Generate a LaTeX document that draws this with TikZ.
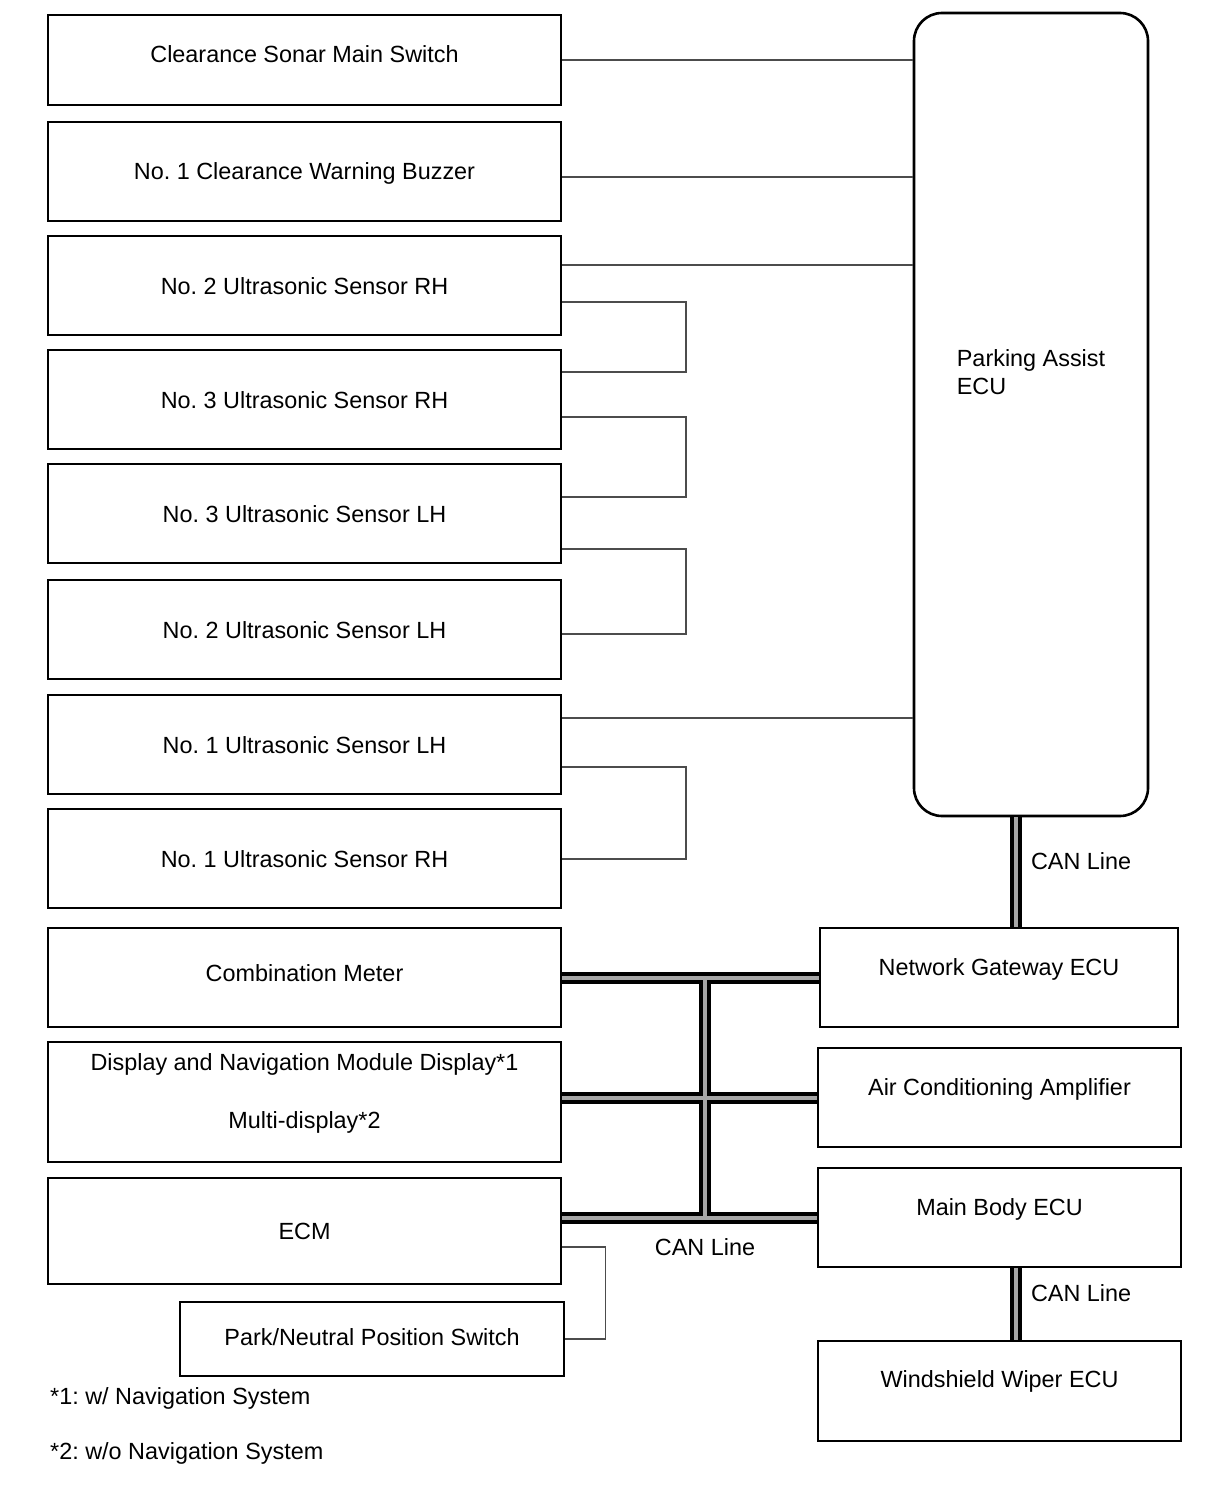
\documentclass[tikz,border=0pt]{standalone}
\usepackage{fontspec}
\setmainfont{Liberation Sans}
\frenchspacing
\begin{document}
\begin{tikzpicture}[x=1pt, y=-1pt,
		font=\fontsize{23.4}{28}\selectfont,
		blocco/.style={draw, line width=2.6pt, minimum width=513pt, minimum height=99pt, inner sep=0pt, text height=17pt, text depth=0pt},
		destra/.style={draw, line width=2.6pt, minimum width=363pt, minimum height=99pt, inner sep=0pt, text height=17pt, text depth=22pt},
		nota/.style={inner sep=0pt, text height=17pt, text depth=0pt},
		filo/.style={line width=1.6pt, black!70},
		can/.style={line width=4pt, double=black!35, double distance=4pt}]
		\useasboundingbox (0,0) rectangle (1210,1498);
		% colonna di sinistra
		\node[blocco, minimum height=90pt, text depth=12pt] (sw) at (304.5,60) {Clearance Sonar Main Switch};
		\node[blocco] (buz) at (304.5,171.5) {No. 1 Clearance Warning Buzzer};
		\node[blocco] (s2rh) at (304.5,285.5) {No. 2 Ultrasonic Sensor RH};
		\node[blocco] (s3rh) at (304.5,399.5) {No. 3 Ultrasonic Sensor RH};
		\node[blocco] (s3lh) at (304.5,513.5) {No. 3 Ultrasonic Sensor LH};
		\node[blocco] (s2lh) at (304.5,629.5) {No. 2 Ultrasonic Sensor LH};
		\node[blocco] (s1lh) at (304.5,744.5) {No. 1 Ultrasonic Sensor LH};
		\node[blocco] (s1rh) at (304.5,858.5) {No. 1 Ultrasonic Sensor RH};
		\node[blocco, text depth=9pt] (cm) at (304.5,977.5) {Combination Meter};
		\node[blocco, minimum height=120pt, align=center, text height={}, text depth=21pt] (disp) at (304.5,1102)
		{Display and Navigation Module Display*1\\[30pt]Multi-display*2};
		\node[blocco, minimum height=106pt] (ecm) at (304.5,1231) {ECM};
		\node[blocco, minimum width=384pt, minimum height=74pt, text depth=4pt] (pnp) at (372,1339) {Park/Neutral Position Switch};
		% centraline a destra
		\node[draw, line width=2.6pt, rounded corners=28pt, minimum width=234pt, minimum height=803pt,
		label={[align=left, yshift=42pt]center:Parking Assist\\ECU}] (ecu) at (1031,414.5) {};
		\node[destra, minimum width=358pt] (ngw) at (999,977.5) {Network Gateway ECU};
		\node[destra] (aca) at (999.5,1097.5) {Air Conditioning Amplifier};
		\node[destra] (mbe) at (999.5,1217.5) {Main Body ECU};
		\node[destra, minimum height=100pt, text depth=24pt] (wwe) at (999.5,1391) {Windshield Wiper ECU};
		% collegamenti
		\coordinate (anello) at (686,0);
		\draw[filo] (sw.east) -- (sw.east -| ecu.west);
		\draw[filo] (buz.east |- 0,177) -- (ecu.west |- 0,177);
		\draw[filo] (s2rh.east |- 0,265) -- (ecu.west |- 0,265);
		\draw[filo] (s1lh.east |- 0,718) -- (ecu.west |- 0,718);
		\draw[filo] (s2rh.east |- 0,302) -| (anello |- 0,372) -- (s3rh.east |- 0,372);
		\draw[filo] (s3rh.east |- 0,417) -| (anello |- 0,497) -- (s3lh.east |- 0,497);
		\draw[filo] (s3lh.east |- 0,549) -| (anello |- 0,634) -- (s2lh.east |- 0,634);
		\draw[filo] (s1lh.east |- 0,767) -| (anello |- 0,859) -- (s1rh.east |- 0,859);
		\draw[filo] ([yshift=-16pt]ecm.east) -| ([xshift=40pt]pnp.east) -- (pnp.east);
		% linee CAN
		\coordinate (canx) at (1016,0);
		\coordinate (bus) at (705,0);
		\draw[can] (canx |- ecu.south) -- (canx |- ngw.north)
		node[nota, pos=0.4, anchor=west, xshift=13pt] {CAN Line};
		\draw[can] (canx |- mbe.south) -- (canx |- wwe.north)
		node[nota, pos=0.35, anchor=west, xshift=13pt] {CAN Line};
		\draw[can] (cm.east) -- (cm.east -| ngw.west)
		(disp.east |- aca.west) -- (aca.west)
		(ecm.east |- mbe.west) -- (mbe.west)
		(bus |- cm.east) -- (bus |- mbe.west);
		\node[nota] (canbus) at (705,1247) {CAN Line};
		% note
		\node[nota, anchor=west] (n1) at (50,1396) {*1: w/ Navigation System};
		\node[nota, anchor=west] (n2) at (50,1451) {*2: w/o Navigation System};
	\end{tikzpicture}
\end{document}
